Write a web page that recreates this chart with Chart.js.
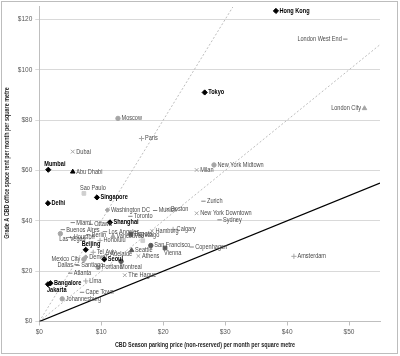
<!DOCTYPE html>
<html><head><meta charset="utf-8">
<script src="https://cdn.jsdelivr.net/npm/chart.js@4/dist/chart.umd.min.js"></script>
<style>html,body{margin:0;padding:0;background:#fff}canvas{display:block}</style>
</head><body><canvas id="c" width="400" height="356"></canvas>
<script>
// ---- data ----
const cities = ["Hong Kong","London West End","Tokyo","London City","Moscow","Paris","Dubai","Mumbai","Abu Dhabi","New York Midtown","Milan","Zurich","New York Downtown","Sydney","Delhi","Sao Paulo","Singapore","Washington DC","Munich","Boston","Toronto","Shanghai","Miami","Ottawa","Buenos Aires","Las Vegas","Houston","Berlin","Los Angeles","Vancouver","Honolulu","Bogota","Hamburg","Calgary","Chicago","San Francisco","Vienna","Copenhagen","Seattle","Athens","Adelaide","Tel Aviv","Beijing","Denver","Seoul","Montreal","Mexico City","Dallas","Santiago","Portland","Atlanta","The Hague","Amsterdam","Lima","Bangalore","Jakarta","Cape Town","Johannesburg"];
const parking = [38.2,49.4,26.7,52.5,12.7,16.5,5.4,1.45,5.4,28.2,25.4,26.5,25.4,29.1,1.4,7.2,9.3,11.0,18.7,20.7,14.7,11.4,5.4,8.3,3.8,3.4,5.0,7.9,10.6,11.9,9.8,14.8,18.2,21.6,16.7,18.0,20.3,24.6,14.9,16.0,10.9,8.7,7.5,7.5,10.5,13.2,7.2,6.0,6.2,9.5,5.0,13.8,41.1,7.5,1.8,1.4,6.9,3.7];
const rent = [123.4,112.2,91.0,84.7,80.7,72.7,67.5,60.3,59.5,62.2,60.2,47.8,43.0,40.4,47.0,50.9,49.3,44.3,44.1,44.6,41.8,39.4,39.3,38.6,36.5,34.9,33.4,34.5,35.7,33.8,32.2,34.6,35.9,36.6,32.1,30.2,29.2,29.6,28.3,26.0,26.6,27.5,28.5,25.6,24.7,23.9,24.7,22.6,22.3,21.5,19.2,18.4,25.9,16.1,15.2,14.8,11.6,9.0];
// reference ratios (rent = ratio x parking)
const refRatios = [1, 2, 4];
const xTicks = [0,10,20,30,40,50];
const yTicks = [0,20,40,60,80,100,120];

// ---- styles (kept apart from values) ----
const markerKind = ["D","-","D","t","c","+","x","D","T","c","x","-","x","-","D","s","D","d","-","x","-","D","-","-","-","c","-","-","-","t","+","S","x","+","s","C","S","-","tD","x","-","+","D","d","D","C","c","-","-","c","-","x","+","+","D","D","-","c"];
const labelSide = ["r","l","r","l","r","r","r","a","r","r","r","r","r","r","r","a","r","r","r","r","r","r","r","r","r","b","r","r","r","r","r","r","r","r","a","r","b","r","r","r","r","r","a","r","r","b","l","l","r","r","r","r","r","r","r","b","r","r"];
const LIGHT = '#a6a6a6', DARK = '#595959';
const kindStyle = {
  'D': {ps:'rectRot', c:'#000', r:2.6, bold:true},
  'T': {ps:'triangle', c:'#000', r:2.6},
  't': {ps:'triangle', c:LIGHT, r:2.6},
  'tD':{ps:'triangle', c:DARK, r:2.6},
  'c': {ps:'circle', c:LIGHT, r:2.2},
  'C': {ps:'circle', c:DARK, r:2.2},
  's': {ps:'rect', c:'#cfcfcf', r:2.6},
  'S': {ps:'rect', c:DARK, r:2.6},
  'x': {ps:'crossRot', c:LIGHT, r:2.6},
  '+': {ps:'cross', c:LIGHT, r:2.6},
  '-': {ps:'line', c:'#808080', r:2.2},
  'd': {ps:'rectRot', c:LIGHT, r:2.2}
};
const FONT = "'Liberation Sans',Arial,sans-serif";
const SX = 0.8;

function txt(ctx, s, x, y, sx){
  ctx.save(); ctx.translate(x, y); ctx.scale(sx, 1); ctx.fillText(s, 0, 0); ctx.restore();
}

const pts = cities.map((n,i)=>({x:parking[i], y:rent[i]}));
const X_MAX = 55, Y_MAX = 125;
const refSets = refRatios.map((k,i)=>{
  const xe = Math.min(X_MAX, Y_MAX / k);
  return {
    type:'line', data:[{x:0,y:0},{x:xe,y:xe*k}], showLine:true, pointRadius:0,
    borderColor: k===1 ? '#000' : '#a0a0a0', borderWidth: k===1 ? 1.3 : 0.7,
    borderDash: k===1 ? [] : [2,2], order:2, fill:false, tension:0
  };
});

const labelPlugin = {
  id:'cityLabels',
  afterDatasetsDraw(chart){
    const ctx = chart.ctx;
    const meta = chart.getDatasetMeta(0);
    ctx.save();
    meta.data.forEach((el,i)=>{
      const st = kindStyle[markerKind[i]];
      ctx.font = (st.bold ? 'bold ' : '') + '7px ' + FONT;
      ctx.fillStyle = st.bold ? '#000' : '#4a4a4a';
      const side = labelSide[i];
      let x = el.x, y = el.y;
      if (side==='r'){ ctx.textAlign='left'; ctx.textBaseline='middle'; x += 3.5; }
      else if (side==='l'){ ctx.textAlign='right'; ctx.textBaseline='middle'; x -= 3.5; }
      else if (side==='a'){ ctx.textAlign='left'; ctx.textBaseline='bottom'; x -= 4; y -= 2; }
      else { ctx.textAlign='left'; ctx.textBaseline='top'; x -= 1; y += 2; }
      txt(ctx, cities[i], x, y, SX);
    });
    ctx.restore();
  },
  afterDraw(chart){
    const ctx = chart.ctx;
    ctx.save();
    ctx.strokeStyle = '#bdbdbd'; ctx.lineWidth = 1;
    ctx.strokeRect(1.5,1.5,396,352);
    ctx.fillStyle = '#262626';
    ctx.font = 'bold 6.5px ' + FONT;
    ctx.textAlign='center'; ctx.textBaseline='middle';
    txt(ctx, 'CBD Season parking price (non-reserved) per month per square metre', 205, 345, 0.83);
    ctx.translate(7, 163); ctx.rotate(-Math.PI/2);
    txt(ctx, 'Grade A CBD office space rent per month per square metre', 0, 0, 0.83);
    ctx.restore();
  }
};

new Chart(document.getElementById('c'), {
  type:'scatter',
  data:{ datasets:[{
      data: pts,
      pointStyle: markerKind.map(k=>kindStyle[k].ps),
      pointRadius: markerKind.map(k=>kindStyle[k].r),
      pointBackgroundColor: markerKind.map(k=>kindStyle[k].c),
      pointBorderColor: markerKind.map(k=>kindStyle[k].c),
      pointBorderWidth: 1,
      order:0
    }, ...refSets ]},
  options:{
    responsive:false, devicePixelRatio:1, animation:false,
    layout:{padding:{left:0,right:20,top:5.25,bottom:0}},
    plugins:{legend:{display:false}, tooltip:{enabled:false}},
    scales:{
      x:{ type:'linear', min:0, max:X_MAX,
        afterFit(s){ s.height = 34.5; },
        afterBuildTicks(s){ s.ticks = xTicks.map(v=>({value:v})); },
        ticks:{ callback:v=>'$'+v, font:{size:6.5, family:FONT}, color:'#595959', padding:3, maxRotation:0 },
        grid:{ drawOnChartArea:false, tickLength:4, color:'#bfbfbf' },
        border:{ color:'#bfbfbf' } },
      y:{ type:'linear', min:0, max:Y_MAX,
        afterFit(s){ s.width = 39.3; },
        afterBuildTicks(s){ s.ticks = yTicks.map(v=>({value:v})); },
        ticks:{ callback:v=>'$'+v, font:{size:6.5, family:FONT}, color:'#595959', padding:3 },
        grid:{ color:'#d9d9d9', tickLength:4 },
        border:{ color:'#bfbfbf' } }
    }
  },
  plugins:[labelPlugin]
});
</script></body></html>
